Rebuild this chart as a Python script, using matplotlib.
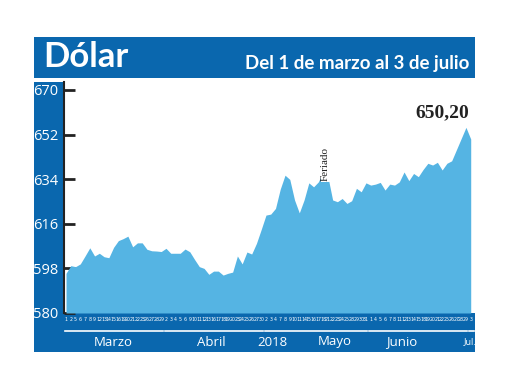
import matplotlib.pyplot as plt
import matplotlib.transforms as mtransforms
from matplotlib.patches import Rectangle
from matplotlib.lines import Line2D

# trading days, 1 March - 3 July 2018 (21 May shown as holiday)
marzo = [1, 2, 5, 6, 7, 8, 9, 12, 13, 14, 15, 16, 19, 20, 21, 22, 23, 26, 27, 28, 29]
abril = [2, 3, 4, 5, 6, 9, 10, 11, 12, 13, 16, 17, 18, 19, 20, 23, 24, 25, 26, 27, 30]
mayo = [2, 3, 4, 7, 8, 9, 10, 11, 14, 15, 16, 17, 18, 21, 22, 23, 24, 25, 28, 29, 30, 31]
junio = [1, 4, 5, 6, 7, 8, 11, 12, 13, 14, 15, 18, 19, 20, 21, 22, 25, 26, 27, 28, 29]
julio = [3]

dolar = [596.0, 599.1, 598.7, 599.8, 603.0, 606.3, 603.0, 604.1, 602.7, 602.3,
         606.5, 609.2, 610.0, 611.0, 606.7, 608.3, 608.3, 605.7, 605.1, 605.0,
         604.8, 606.1, 604.1, 604.1, 604.1, 605.8, 604.7, 601.6, 598.7, 598.0,
         595.6, 596.9, 596.9, 595.3, 596.0, 596.5, 603.0, 599.8, 604.6, 603.8,
         608.1, 613.7, 619.5, 619.9, 622.2, 630.0, 635.6, 633.9, 625.6, 620.4,
         625.6, 632.5, 630.9, 632.9, 636.9, 635.0, 625.6, 624.9, 626.2, 624.2,
         625.3, 630.3, 628.9, 632.5, 631.6, 632.0, 632.7, 629.6, 632.0, 631.6,
         632.9, 636.9, 633.4, 636.3, 635.0, 637.9, 640.4, 639.7, 640.8, 637.7,
         640.4, 641.4, 645.9, 650.4, 654.9, 650.2]

y_ticks = [580, 598, 616, 634, 652, 670]
meses = ['Marzo', 'Abril', 'Mayo', 'Junio', 'Jul.']
mes_pos = [10, 30.5, 56.5, 70.5, 84.8]
anio = '2018'
anio_pos = 43.3
feriado_idx = 55  # 21 de mayo
ultimo = '650,20'

azul = '#0a67ae'
celeste = '#55b4e3'

dias = marzo + abril + mayo + junio + julio
x = list(range(len(dias)))

W, H = 520, 390
fig = plt.figure(figsize=(W / 100, H / 100), dpi=100)
fig.patch.set_facecolor('white')


def fr(x0, y0, x1, y1):
    # pixel box (top-left origin) -> figure fraction rect
    return (x0 / W, 1 - y1 / H, (x1 - x0) / W, (y1 - y0) / H)


for box in [(34, 37, 475, 78), (34, 82, 64, 352), (34, 313, 475, 352)]:
    l, b, w, h = fr(*box)
    fig.patches.append(Rectangle((l, b), w, h, transform=fig.transFigure,
                                 facecolor=azul, edgecolor='none', zorder=0))

fig.text(43 / W, 1 - 57 / H, 'Dólar', color='white', fontsize=25,
         fontweight='bold', family='Lato', va='center', ha='left', zorder=3)
fig.text(469 / W, 1 - 63 / H, 'Del 1 de marzo al 3 de julio', color='white',
         fontsize=13.5, fontweight='bold', family='Lato', va='center', ha='right',
         zorder=3)

ax = fig.add_axes(fr(64, 82, 475, 313))
ax.set_zorder(2)
ax.set_facecolor('white')
ax.fill_between(x, dolar, 580, color=celeste, lw=0, zorder=2)
ax.set_xlim(-0.42, 85.9)
ax.set_ylim(580, 673.2)

for s in ['top', 'right', 'bottom']:
    ax.spines[s].set_visible(False)
ax.spines['left'].set_color('#222222')
ax.spines['left'].set_linewidth(1.5)

ax.set_yticks(y_ticks)
ax.tick_params(axis='y', direction='in', length=8, width=2, color='#222222',
               labelcolor='white', labelsize=10.5, pad=4)
for t in ax.get_yticklabels():
    t.set_family('Open Sans')

ax.set_xticks(x)
ax.set_xticklabels([str(d) for d in dias])
ax.tick_params(axis='x', length=0, labelcolor='white', labelsize=3.4, pad=3)
for t in ax.get_xticklabels():
    t.set_family(['Liberation Sans Narrow', 'DejaVu Sans'])

# month underlines and labels
trans = mtransforms.blended_transform_factory(ax.transData, fig.transFigure)
grupos = [marzo, abril, mayo, junio]
i0 = 0
y_line = 1 - 331 / H
for g in grupos:
    i1 = i0 + len(g) - 1
    fig.lines.append(Line2D([i0 - 0.3, i1 + 0.3], [y_line, y_line], transform=trans,
                            color='white', lw=1.2, zorder=3))
    i0 = i1 + 1
fig.lines.append(Line2D([i0 - 0.3, i0 + 0.6], [y_line, y_line], transform=trans,
                        color='white', lw=1.2, zorder=3))

for m, p in zip(meses, mes_pos):
    fig.text(p, 1 - 342 / H, m, transform=trans, color='white', ha='center',
             va='center', fontsize=9.5 if m != 'Jul.' else 6.5, family='Open Sans',
             zorder=3)
fig.text(anio_pos, 1 - 342 / H, anio, transform=trans, color='white',
         ha='center', va='center', fontsize=9.5, family='Open Sans', zorder=3)

ax.text(feriado_idx - 0.5, 640, 'Feriado', rotation=90,
        ha='center', va='center', fontsize=8, family='Liberation Serif',
        color='#222222', zorder=3,
        bbox=dict(facecolor='white', edgecolor='none', pad=0.2))
ax.text(len(dias) - 1.3, 657.5, ultimo, ha='right', va='bottom',
        fontsize=14, fontweight='bold', family='Liberation Serif', color='#222222')

fig.savefig('out.png', dpi=100, facecolor='white')
